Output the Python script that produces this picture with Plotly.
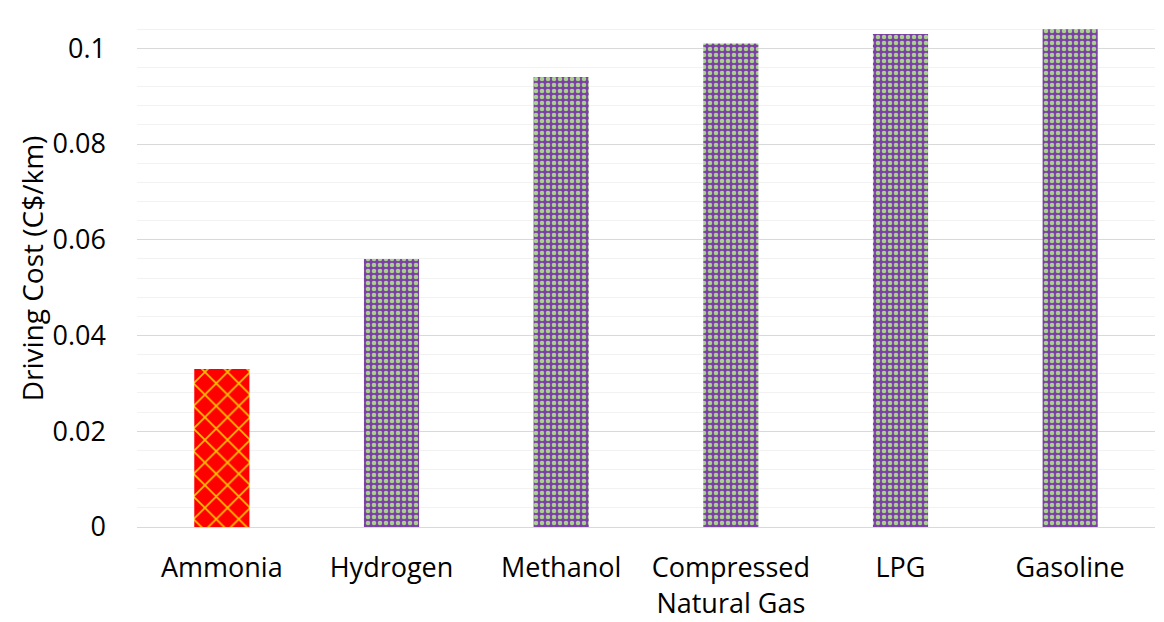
import plotly.graph_objects as go

fuels = ["Ammonia", "Hydrogen", "Methanol", "Compressed<br>Natural Gas", "LPG", "Gasoline"]
driving_cost = [0.033, 0.056, 0.094, 0.101, 0.103, 0.104]
y_ticks = [0, 0.02, 0.04, 0.06, 0.08, 0.1]
y_tick_labels = ["0", "0.02", "0.04", "0.06", "0.08", "0.1"]

font = dict(family="Open Sans, sans-serif", size=27, color="#000000")

fig = go.Figure()
# Ammonia highlighted with a red/gold lattice, the other fuels in a purple/green check
fig.add_trace(
    go.Bar(
        x=fuels[:1],
        y=driving_cost[:1],
        marker=dict(
            color="#FF0000",
            line=dict(width=0),
            pattern=dict(
                shape="x",
                bgcolor="#FF0000",
                fgcolor="#FFC000",
                fgopacity=1,
                size=16,
                solidity=0.2,
                fillmode="replace",
            ),
        ),
    )
)
fig.add_trace(
    go.Bar(
        x=fuels[1:],
        y=driving_cost[1:],
        marker=dict(
            color="#7030A0",
            line=dict(width=0),
            pattern=dict(
                shape=".",
                bgcolor="#7B3FA5",
                fgcolor="#A9D18E",
                fgopacity=1,
                size=6,
                solidity=0.45,
                fillmode="replace",
            ),
        ),
    )
)

fig.update_layout(
    width=1164,
    height=622,
    margin=dict(l=137, r=9, t=10, b=95),
    plot_bgcolor="white",
    paper_bgcolor="white",
    barmode="overlay",
    bargap=0.675,
    showlegend=False,
    font=font,
)
fig.update_xaxes(
    categoryorder="array",
    categoryarray=fuels,
    automargin=False,
    showgrid=False,
    showline=True,
    linecolor="#D9D9D9",
    linewidth=1,
    ticks="",
    ticklabelstandoff=17,
    tickfont=font,
)
fig.update_yaxes(
    range=[0, 0.108],
    tickvals=y_ticks,
    ticktext=y_tick_labels,
    automargin=False,
    showgrid=True,
    gridcolor="#D9D9D9",
    gridwidth=1,
    zeroline=False,
    showline=False,
    ticks="",
    ticklabelstandoff=30,
    tickfont=font,
    title=dict(text="Driving Cost (C$/km)", font=dict(font, size=28), standoff=0),
    minor=dict(dtick=0.004, showgrid=True, gridcolor="#F2F2F2", gridwidth=1),
)

fig.write_html("out.html")
